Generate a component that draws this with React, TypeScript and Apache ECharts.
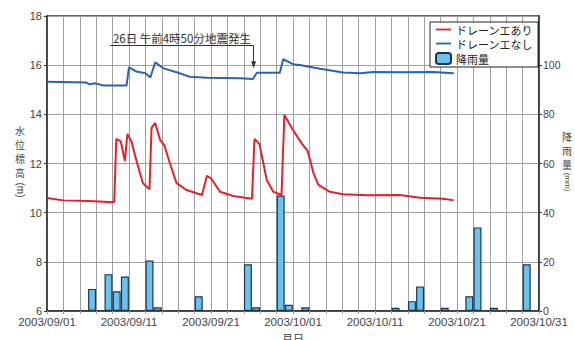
import React, { useEffect, useRef } from "react";
import * as echarts from "echarts";

// Groundwater level (m) — with drains
const redDays = [0, 2, 5, 8.2, 8.45, 9.0, 9.5, 9.8, 10.3, 11.0, 11.7, 12.5, 12.75, 13.2, 13.8, 14.3, 15.0, 15.8, 17.0, 18.9, 19.5, 20.0, 21.1, 22.7, 25.0, 25.3, 25.9, 26.8, 27.6, 28.6, 28.95, 30.0, 31.1, 31.8, 32.5, 33.1, 34.5, 36.1, 39.0, 43.0, 45.5, 48.3, 49.6];
const redLevels = [10.6, 10.5, 10.47, 10.42, 13.0, 12.9, 12.1, 13.2, 12.9, 12.0, 11.2, 10.95, 13.45, 13.65, 12.95, 12.75, 12.0, 11.2, 10.92, 10.72, 11.5, 11.4, 10.85, 10.68, 10.57, 13.0, 12.8, 11.33, 10.85, 10.72, 13.97, 13.36, 12.8, 12.5, 11.6, 11.13, 10.85, 10.75, 10.71, 10.72, 10.61, 10.57, 10.5];

// Groundwater level (m) — without drains
const blueDays = [0, 4.8, 5.2, 5.9, 6.9, 9.7, 10.0, 10.9, 12.0, 12.6, 13.2, 14.2, 15.8, 17.4, 19.5, 23.5, 25.1, 25.6, 28.4, 28.8, 30.0, 31.0, 33.3, 36.1, 38.2, 39.8, 43.0, 47.1, 49.6];
const blueLevels = [15.33, 15.29, 15.22, 15.26, 15.17, 15.17, 15.91, 15.74, 15.67, 15.5, 16.12, 15.87, 15.71, 15.53, 15.49, 15.47, 15.44, 15.69, 15.69, 16.24, 16.04, 16.0, 15.85, 15.7, 15.67, 15.72, 15.71, 15.72, 15.67];

// Daily rainfall (mm)
const rainDates = ["2003/09/06", "2003/09/08", "2003/09/09", "2003/09/10", "2003/09/13", "2003/09/14", "2003/09/19", "2003/09/25", "2003/09/26", "2003/09/29", "2003/09/30", "2003/10/02", "2003/10/13", "2003/10/15", "2003/10/16", "2003/10/19", "2003/10/22", "2003/10/23", "2003/10/25", "2003/10/29"];
const rainValues = [9, 15, 8, 14, 20.5, 1.5, 6, 19, 1.5, 47, 2.5, 1.5, 1.3, 4, 10, 1.3, 6, 34, 1.3, 19];

const levelTicks = [6, 18, 2];
const rainTicks = [0, 120, 20];
const periodDays = 60;

const quakeDay = 25 + (4 + 50 / 60) / 24; // 26日 4:50
const quakeText = "26日 午前4時50分地震発生";

const seriesNames = ["ドレーンエあり", "ドレーンエなし", "降雨量"];
const leftTitle = ["水", "位", "標", "高"];
const rightTitle = ["降", "雨", "量"];

const FONT = "'Liberation Sans', 'Noto Sans CJK JP', sans-serif";
const JP_FONT = "'Noto Sans CJK JP', sans-serif";

// thin horizontal bar inside a 15x11 box, used as the legend key of a line
const LINE_ICON = "path://M0,0M0,4.6L15,4.6L15,6.4L0,6.4ZM15,11";

const DAY_MS = 86400000;
const startMs = Date.UTC(2003, 8, 1);

function dayToLabel(v: number): string {
  const d = new Date(startMs + v * DAY_MS);
  const mm = String(d.getUTCMonth() + 1).padStart(2, "0");
  const dd = String(d.getUTCDate()).padStart(2, "0");
  return `${d.getUTCFullYear()}/${mm}/${dd}`;
}

function dateToDay(s: string): number {
  const [y, m, d] = s.split("/").map(Number);
  return Math.round((Date.UTC(y, m - 1, d) - startMs) / DAY_MS);
}

// vertically stacked axis title, one glyph per text element
function stackedTitle(chars: string[], cx: number, top: number, step: number) {
  return chars.map((c, i) => ({
    type: "text",
    x: cx,
    y: top + i * step,
    style: {
      text: c,
      fontFamily: JP_FONT,
      fontSize: 10,
      fill: "#444",
      align: "center",
      verticalAlign: "middle",
    },
  }));
}

export default function App() {
  const ref = useRef<HTMLDivElement>(null);

  useEffect(() => {
    if (!ref.current) return;
    const chart = echarts.init(ref.current, null, { renderer: "svg" });

    const redData = redDays.map((d, i) => [d, redLevels[i]]);
    const blueData = blueDays.map((d, i) => [d, blueLevels[i]]);
    // each rainfall bar fills the day it belongs to
    const rainData = rainDates.map((s, i) => [dateToDay(s) + 0.5, rainValues[i]]);

    const gridColor = "#a0a0a0";
    const axisColor = "#333";
    const labelColor = "#444";

    chart.setOption({
      animation: false,
      backgroundColor: "#fff",
      textStyle: { fontFamily: FONT },
      grid: {
        left: 47,
        right: 36,
        top: 16,
        bottom: 29,
        outerBoundsMode: "none",
        containLabel: false,
        show: true,
        borderColor: axisColor,
        borderWidth: 1.5,
      },
      legend: {
        orient: "vertical",
        left: 430,
        top: 22,
        padding: [2, 5, 2, 5],
        itemGap: 3,
        itemWidth: 15,
        itemHeight: 11,
        backgroundColor: "#fff",
        borderColor: "#222",
        borderWidth: 1,
        borderRadius: 0,
        data: [
          { name: seriesNames[0], icon: LINE_ICON },
          { name: seriesNames[1], icon: LINE_ICON },
          { name: seriesNames[2] },
        ],
        textStyle: { fontFamily: JP_FONT, fontSize: 11, color: "#222" },
      },
      xAxis: {
        type: "value",
        min: 0,
        max: periodDays,
        interval: 2,
        name: "月日",
        nameLocation: "middle",
        nameGap: 17,
        nameTextStyle: { fontFamily: JP_FONT, fontSize: 11, color: labelColor },
        axisLine: { show: true, lineStyle: { color: axisColor, width: 1.5 } },
        axisTick: { show: true, length: 3, lineStyle: { color: gridColor } },
        axisLabel: {
          margin: 5,
          fontSize: 11.5,
          color: labelColor,
          showMinLabel: true,
          showMaxLabel: true,
          formatter: (v: number) => (Math.round(v) % 10 === 0 ? dayToLabel(v) : ""),
        },
        splitLine: { show: true, lineStyle: { color: gridColor, width: 1 } },
      },
      yAxis: [
        {
          type: "value",
          min: levelTicks[0],
          max: levelTicks[1],
          interval: levelTicks[2],
          axisLine: { show: true, lineStyle: { color: axisColor, width: 1.5 } },
          axisTick: { show: true, length: 3, lineStyle: { color: axisColor } },
          axisLabel: { margin: 5, fontSize: 11, color: labelColor },
          splitLine: { show: true, lineStyle: { color: gridColor, width: 1 } },
        },
        {
          type: "value",
          min: rainTicks[0],
          max: rainTicks[1],
          interval: rainTicks[2],
          position: "right",
          axisLine: { show: true, lineStyle: { color: axisColor, width: 1.5 } },
          axisTick: { show: true, length: 3, lineStyle: { color: axisColor } },
          axisLabel: { margin: 4, fontSize: 10.5, color: labelColor, showMaxLabel: false },
          splitLine: { show: false },
        },
      ],
      series: [
        {
          name: seriesNames[0],
          type: "line",
          data: redData,
          symbol: "none",
          lineStyle: { color: "#e3202c", width: 2 },
          itemStyle: { color: "#e3202c" },
          z: 3,
        },
        {
          name: seriesNames[1],
          type: "line",
          data: blueData,
          symbol: "none",
          lineStyle: { color: "#2c63ad", width: 2 },
          itemStyle: { color: "#2c63ad" },
          z: 3,
          markLine: {
            silent: true,
            symbol: ["none", "none"],
            lineStyle: { color: "#333", width: 1, type: "solid" },
            label: { show: false },
            data: [
              [
                {
                  coord: [7.7, 16.8],
                  label: {
                    show: true,
                    position: "insideMiddleTop",
                    formatter: quakeText,
                    distance: 2,
                    fontFamily: JP_FONT,
                    fontSize: 11.5,
                    color: "#333",
                  },
                },
                { coord: [quakeDay, 16.8] },
              ],
              [
                { coord: [quakeDay, 16.8] },
                { coord: [quakeDay, 16.02], symbol: "triangle", symbolSize: [5, 7], symbolRotate: 180 },
              ],
            ],
          },
        },
        {
          name: seriesNames[2],
          type: "bar",
          yAxisIndex: 1,
          data: rainData,
          barWidth: 8,
          itemStyle: { color: "#6cc2ec", borderColor: "#1d3550", borderWidth: 1.2 },
          z: 2,
        },
      ],
      graphic: [
        ...stackedTitle(leftTitle, 20, 130, 14),
        {
          type: "text",
          x: 20,
          y: 190,
          rotation: -Math.PI / 2,
          style: {
            text: "(m)",
            fontFamily: FONT,
            fontSize: 10,
            fill: "#444",
            align: "center",
            verticalAlign: "middle",
          },
        },
        ...stackedTitle(rightTitle, 567, 136, 14),
        {
          type: "text",
          x: 567,
          y: 182,
          rotation: -Math.PI / 2,
          style: {
            text: "(mm)",
            fontFamily: FONT,
            fontSize: 8,
            fill: "#444",
            align: "center",
            verticalAlign: "middle",
          },
        },
      ],
    });

    return () => chart.dispose();
  }, []);

  return (
    <div
      ref={ref}
      style={{ position: "fixed", left: 0, top: 0, width: 575, height: 340 }}
    />
  );
}
